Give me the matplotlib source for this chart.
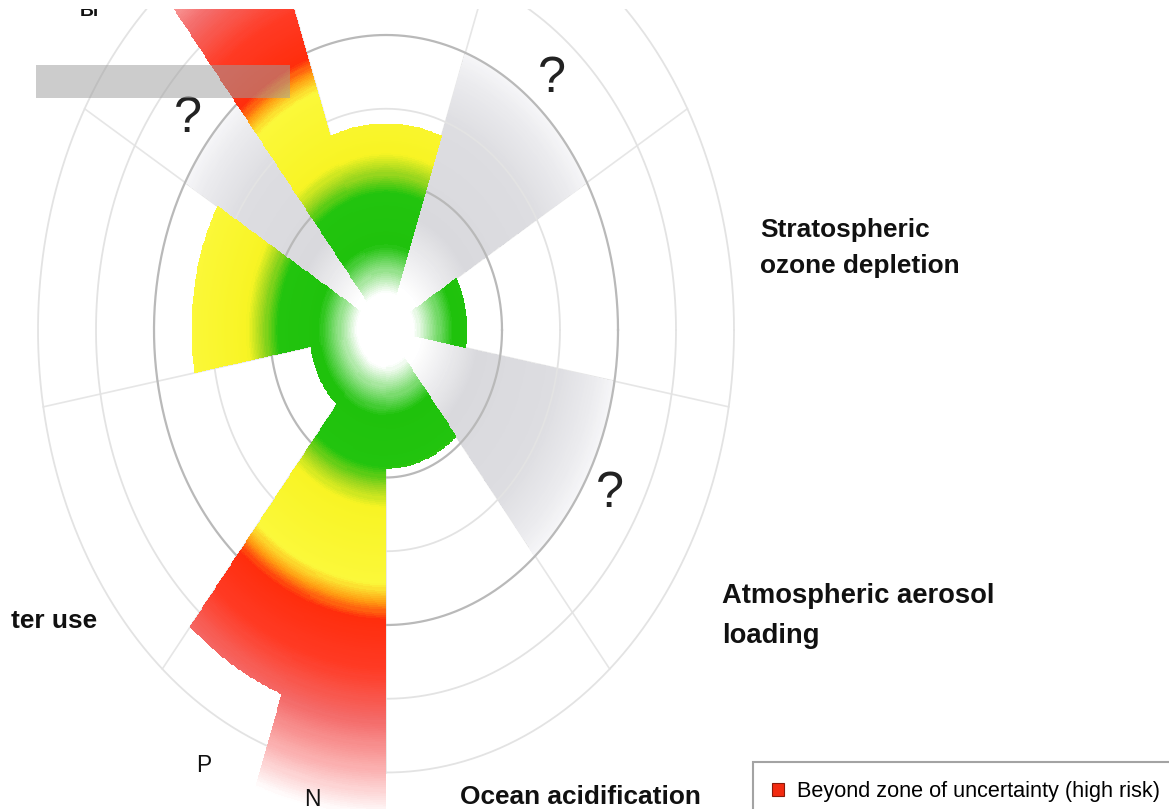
import numpy as np
import matplotlib
matplotlib.use("Agg")
import matplotlib.pyplot as plt
from matplotlib import font_manager
from matplotlib.colors import LinearSegmentedColormap
from matplotlib.patches import Patch, Rectangle

W, H = 1169, 809

# condensed look of the original: use the narrow face when present
names = {f.name for f in font_manager.fontManager.ttflist}
NARROW = "Liberation Sans Narrow" in names
FONT = "Liberation Sans Narrow" if NARROW else "Liberation Sans"
k = 1.0 if NARROW else 0.82
plt.rcParams["font.family"] = [FONT, "DejaVu Sans"]

# --- data -----------------------------------------------------------------
sector_names = ["Climate change", "Novel entities", "Stratospheric ozone depletion",
                "Atmospheric aerosol loading", "Ocean acidification", "N", "P",
                "Freshwater use", "Land-system change", "Genetic diversity",
                "Functional diversity"]
sector_start = [70, 30, -10, -50, -90, -110, -130, -170, 150, 110, 130]
sector_end = [110, 70, 30, -10, -50, -90, -110, -130, 190, 130, 150]
sector_value = [2.8, 4.0, 1.4, 4.0, 1.88, 7.0, 5.25, 1.32, 3.35, 7.0, 4.0]
sector_quantified = [True, False, True, False, True, True, True, True, True, True, False]

ring_radii = [2, 3, 4, 5, 6]
ring_major = [True, False, True, False, False]
spoke_angles = [-90, -50, -10, 30, 70, 110, 150, 190, 230]

legend_label = "Beyond zone of uncertainty (high risk)"

# --- layout ---------------------------------------------------------------
RMAX = 7.0
cx, cy = 386, 330          # centre in pixels (from top)
ux, uy = 58.0, 73.75       # pixels per radial unit (image is squeezed sideways)

fig = plt.figure(figsize=(W / 100, H / 100), dpi=100)
ax = fig.add_axes([(cx - RMAX * ux) / W, (H - cy - RMAX * uy) / H,
                   2 * RMAX * ux / W, 2 * RMAX * uy / H], projection="polar")
ax.set_aspect("auto")
ax.set_ylim(0, RMAX)
ax.set_axis_off()

risk_cmap = LinearSegmentedColormap.from_list("risk", [
    (0.0, "#ffffff"), (0.48 / 7, "#ffffff"), (1.15 / 7, "#1fc20c"),
    (1.85 / 7, "#22c40e"), (2.12 / 7, "#9ad61e"), (2.4 / 7, "#f8f424"),
    (3.45 / 7, "#fbf83a"), (3.7 / 7, "#ff9c12"), (3.92 / 7, "#ff2d0c"),
    (4.6 / 7, "#ff3a24"), (5.3 / 7, "#f46a68"), (6.0 / 7, "#fbb4b4"),
    (6.6 / 7, "#ffffff"), (1.0, "#ffffff")])
grey_cmap = LinearSegmentedColormap.from_list("unknown", [
    (0.0, "#ffffff"), (0.6 / 4, "#ffffff"), (1.6 / 4, "#d9d9dd"),
    (3.0 / 4, "#dddde1"), (3.7 / 4, "#ececef"), (1.0, "#f6f6f8")])


def wedge(t0, t1, rv, cmap, vmax, z):
    th = np.radians(np.linspace(t0, t1, 41))
    rr = np.linspace(0, rv, max(int(rv * 40), 2))
    rc = 0.5 * (rr[1:] + rr[:-1])
    c = np.repeat(rc[:, None], len(th) - 1, axis=1)
    ax.pcolormesh(th, rr, c, cmap=cmap, vmin=0, vmax=vmax, shading="flat",
                  edgecolors="none", antialiased=False, zorder=z)


# faint spokes and rings
full = np.linspace(0, 2 * np.pi, 721)
for a in spoke_angles:
    ax.plot([np.radians(a)] * 2, [0, 6], color="#e6e6e6", lw=1.2, zorder=0.5)
for r, major in zip(ring_radii, ring_major):
    ax.plot(full, np.full_like(full, r), color="#b9b9b9" if major else "#e3e3e3",
            lw=1.6 if major else 1.3, zorder=2)

for t0, t1, v, q in zip(sector_start, sector_end, sector_value, sector_quantified):
    if q:
        wedge(t0, t1, v, risk_cmap, RMAX, 3)
    else:
        wedge(t0, t1, v, grey_cmap, 4.0, 1)
        ax.text(np.radians((t0 + t1) / 2), 4.45, "?", fontsize=44 * k, color="#222222",
                ha="center", va="center", zorder=4)

# --- labels ---------------------------------------------------------------
def label(s, x, y, size, weight="bold", ha="left"):
    fig.text(x / W, 1 - y / H, s, fontsize=size * k, fontweight=weight,
             ha=ha, va="baseline", color="#111111", zorder=3)


label("Stratospheric", 760, 237, 23)
label("ozone depletion", 760, 273, 23)
label("Atmospheric aerosol", 722, 603, 24)
label("loading", 722, 643, 24)
label("ter use", 97, 628, 23, ha="right")
label("Ocean acidification", 460, 804, 23)
label("P", 196, 772, 20, weight="normal")
label("N", 304, 806, 20, weight="normal")
label("Bi", 80, 16, 17)

leg = fig.legend(handles=[Patch(facecolor="#f32a10", edgecolor="#8a1a0a", lw=0.8)],
                 labels=[legend_label], loc="upper left",
                 bbox_to_anchor=(753 / W, 1 - 762 / H), borderaxespad=0,
                 frameon=True, fancybox=False, edgecolor="#8c8c8c",
                 handlelength=0.55, handleheight=0.55, handletextpad=0.6,
                 borderpad=0.9, prop=dict(size=19 * k))
leg.get_frame().set_linewidth(1.5)

# redaction bar and cropped top strip of the source image
fig.patches.append(Rectangle((36 / W, 1 - 98 / H), 254 / W, 33 / H, transform=fig.transFigure,
                             facecolor="#9e9e9e", alpha=0.52, edgecolor="none", zorder=5))
fig.patches.append(Rectangle((0, 1 - 9 / H), 1, 9 / H, transform=fig.transFigure,
                             facecolor="white", edgecolor="none", zorder=10))

fig.savefig("out.png", dpi=100, facecolor="white")
